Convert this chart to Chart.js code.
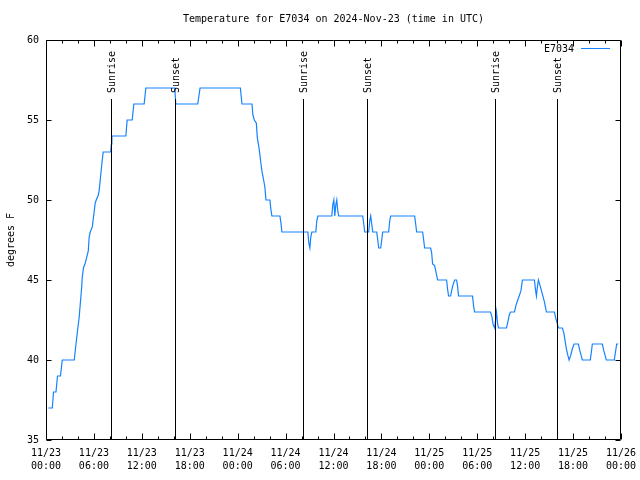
<!DOCTYPE html>
<html>
<head>
<meta charset="utf-8">
<script src="https://cdn.jsdelivr.net/npm/chart.js@4/dist/chart.umd.min.js"></script>
<style>
html,body{margin:0;padding:0;background:#fff;}
canvas{display:block;}
</style>
</head>
<body>
<canvas id="c" width="640" height="480"></canvas>
<script>
// Hours since 2024-11-23 00:00 UTC
const hours = [0.29,0.79,0.94,1.25,1.44,1.81,2.04,3.54,3.69,3.94,
4.16,4.29,4.46,4.54,4.71,4.88,5.04,5.29,5.41,5.54,
5.79,5.91,6.04,6.16,6.29,6.54,6.66,6.79,7.00,7.16,
8.09,8.19,8.25,10.00,10.16,10.79,11.00,12.29,12.50,16.13,
16.25,19.00,19.29,24.34,24.54,25.79,25.91,26.09,26.34,26.46,
26.66,26.79,26.91,27.04,27.25,27.41,27.54,28.04,28.16,28.29,
29.29,29.41,29.54,32.79,32.91,33.04,33.16,33.29,33.79,33.91,
34.04,35.79,35.91,36.04,36.16,36.29,36.41,36.54,36.66,39.66,
39.79,39.91,40.41,40.54,40.66,40.79,40.91,41.41,41.54,41.66,
41.91,42.04,42.16,42.91,43.04,43.16,46.16,46.29,46.41,47.16,
47.29,47.41,48.16,48.29,48.41,48.66,48.79,48.91,49.04,50.16,
50.29,50.41,50.66,50.91,51.16,51.41,51.54,51.66,53.41,53.54,
53.66,55.66,55.84,56.00,56.19,56.41,56.54,56.66,57.66,57.84,
58.00,58.16,58.66,58.84,59.04,59.25,59.46,59.66,61.16,61.29,
61.41,61.54,61.66,61.84,62.00,62.16,62.38,62.54,62.66,63.66,
63.84,64.00,64.16,64.66,64.84,65.00,65.16,65.34,65.50,65.71,
65.91,66.13,66.66,66.84,67.00,67.16,68.16,68.29,68.41,69.66,
69.84,70.00,70.16,71.16,71.31,71.46,71.66];

// Temperature, degrees F
const temps = [37,37,38,38,39,39,40,40,40.7,41.8,
42.7,43.5,44.5,45.2,45.8,46,46.3,46.8,47.7,48,
48.3,48.8,49.3,49.8,50,50.3,50.6,51.25,52.3,53,
53,53.5,54,54,55,55,56,56,57,57,
56,56,57,57,56,56,55.3,55,54.8,53.9,
53.3,52.8,52.3,51.8,51.25,50.8,50,50,49.4,49,
49,48.6,48,48,47.3,47,47.7,48,48,48.7,
49,49,49.7,50,49,49.7,50,49.3,49,49,
48.5,48,48,48.7,49,48.5,48,48,47.5,47,
47,47.5,48,48,48.7,49,49,48.5,48,48,
47.5,47,47,46.7,46,45.9,45.6,45.3,45,45,
44.4,44,44,44.6,45,45,44.6,44,44,43.4,
43,43,42.7,42.2,42,43,42.3,42,42,42.4,
42.8,43,43,43.4,43.7,44,44.3,45,45,44.4,
44,44.6,45,44.7,44.4,44.1,43.7,43.3,43,43,
42.6,42.3,42,42,41.7,41.2,40.7,40.3,40,40.3,
40.7,41,41,40.6,40.3,40,40,40.5,41,41,
40.6,40.3,40,40,40.5,41,41];

// Sun events (hours since 11/23 00:00)
const sunTimes = [8.16, 16.17, 32.17, 40.17, 56.17, 64.04];
const sunLabels = ['Sunrise', 'Sunset', 'Sunrise', 'Sunset', 'Sunrise', 'Sunset'];

const dayLabels = ['11/23', '11/24', '11/25', '11/26'];
const seriesName = 'E7034';
const titleText = 'Temperature for E7034 on 2024-Nov-23 (time in UTC)';
const yTitle = 'degrees F';

const FONT = 'DejaVu Sans Mono';
const LINE_COLOR = 'rgb(20,130,255)';

const points = hours.map((h, i) => ({x: h, y: temps[i]}));

function xLabel(v) {
  if (v % 6 !== 0) return '';
  const d = Math.floor(v / 24);
  const hh = v - d * 24;
  return [dayLabels[d], (hh < 10 ? '0' : '') + hh + ':00'];
}

const decor = {
  id: 'decor',
  afterDatasetsDraw(chart) {
    const ctx = chart.ctx;
    const a = chart.chartArea;
    const xs = chart.scales.x, ys = chart.scales.y;
    ctx.save();
    ctx.strokeStyle = '#000';
    ctx.lineWidth = 1;
    // frame
    const L = Math.round(a.left) + 0.5, R = Math.round(a.right) - 0.5;
    const T = Math.round(a.top) + 0.5, B = Math.round(a.bottom) - 0.5;
    ctx.beginPath();
    ctx.rect(L, T, R - L, B - T);
    ctx.stroke();
    // x ticks (inward, mirrored)
    ctx.beginPath();
    for (let v = 0; v <= 72; v += 2) {
      const px = Math.round(xs.getPixelForValue(v)) + 0.5;
      const len = (v % 6 === 0) ? 6 : 3;
      ctx.moveTo(px, B); ctx.lineTo(px, B - len);
      ctx.moveTo(px, T); ctx.lineTo(px, T + len);
    }
    // y ticks
    for (let v = 35; v <= 60; v += 5) {
      const py = Math.round(ys.getPixelForValue(v)) + 0.5;
      ctx.moveTo(L, py); ctx.lineTo(L + 5, py);
      ctx.moveTo(R, py); ctx.lineTo(R - 5, py);
    }
    ctx.stroke();
    // sun lines
    ctx.font = '10px "' + FONT + '"';
    ctx.fillStyle = '#000';
    sunTimes.forEach((t, i) => {
      const px = Math.round(xs.getPixelForValue(t)) + 0.5;
      ctx.beginPath();
      ctx.moveTo(px, B);
      ctx.lineTo(px, 99);
      ctx.stroke();
      ctx.save();
      ctx.translate(px + 1, 93);
      ctx.rotate(-Math.PI / 2);
      ctx.textAlign = 'left';
      ctx.textBaseline = 'middle';
      ctx.fillText(sunLabels[i], 0, 0);
      ctx.restore();
    });
    // legend
    ctx.textAlign = 'right';
    ctx.textBaseline = 'middle';
    ctx.fillText(seriesName, 574, 49);
    ctx.strokeStyle = LINE_COLOR;
    ctx.beginPath();
    ctx.moveTo(581, 48.5);
    ctx.lineTo(610, 48.5);
    ctx.stroke();
    ctx.restore();
  }
};

new Chart(document.getElementById('c'), {
  type: 'line',
  data: {
    datasets: [{
      label: seriesName,
      data: points,
      borderColor: LINE_COLOR,
      backgroundColor: LINE_COLOR,
      borderWidth: 1.2,
      pointRadius: 0,
      tension: 0,
      fill: false
    }]
  },
  options: {
    responsive: false,
    devicePixelRatio: 1,
    animation: false,
    layout: { padding: { left: 0, right: 19, top: 0, bottom: 0 } },
    plugins: {
      legend: { display: false },
      tooltip: { enabled: false },
      title: {
        display: true,
        text: titleText,
        fullSize: false,
        color: '#000',
        font: { family: FONT, size: 10, weight: 'normal', lineHeight: 1.2 },
        padding: { top: 13, bottom: 15 }
      }
    },
    scales: {
      x: {
        type: 'linear',
        min: 0,
        max: 72,
        grid: { display: false, drawTicks: false },
        border: { display: false },
        afterFit(s) { s.height = 40; s.paddingLeft = 0; s.paddingRight = 0; },
        ticks: {
          stepSize: 2,
          autoSkip: false,
          maxRotation: 0,
          minRotation: 0,
          padding: 7,
          color: '#000',
          font: { family: FONT, size: 10, lineHeight: 1.27 },
          callback: (v) => xLabel(v)
        }
      },
      y: {
        min: 35,
        max: 60,
        grid: { display: false, drawTicks: false },
        border: { display: false },
        afterFit(s) { s.width = 46; s.paddingTop = 0; s.paddingBottom = 0; },
        title: {
          display: true,
          text: yTitle,
          color: '#000',
          font: { family: FONT, size: 10, lineHeight: 1.2 },
          padding: { top: 5, bottom: 0 }
        },
        ticks: {
          stepSize: 5,
          padding: 7,
          color: '#000',
          font: { family: FONT, size: 10 }
        }
      }
    }
  },
  plugins: [decor]
});
</script>
</body>
</html>
